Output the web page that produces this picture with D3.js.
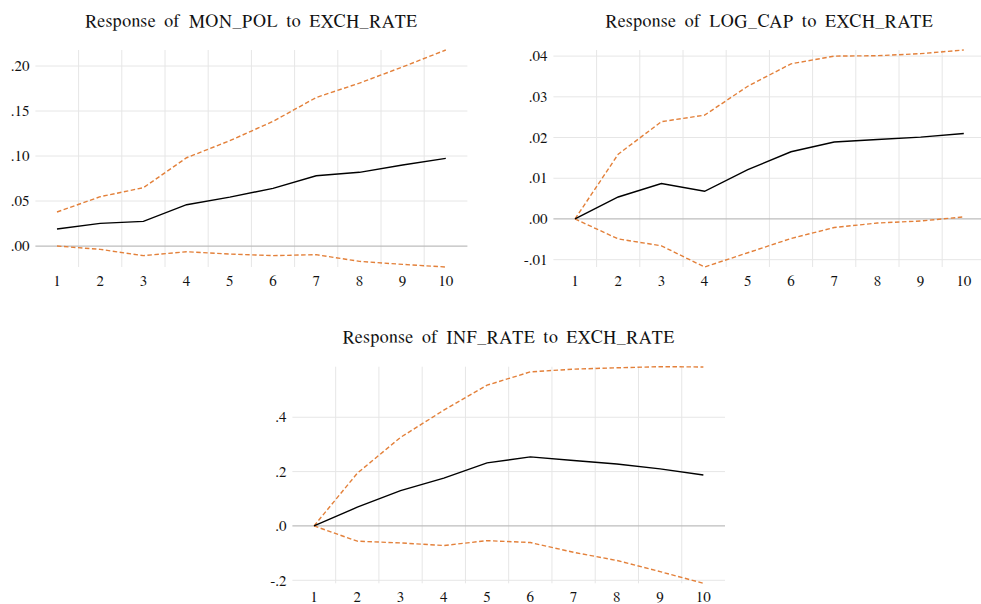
<!DOCTYPE html>
<html>
<head>
<meta charset="utf-8">
<script src="https://cdn.jsdelivr.net/npm/d3@7"></script>
<style>
  html, body { margin: 0; padding: 0; background: #fff; }
  svg { display: block; }
</style>
</head>
<body>
<svg id="chart" width="981" height="604"></svg>
<script>
// ---- Data ----
const periods = [1, 2, 3, 4, 5, 6, 7, 8, 9, 10];

const titles = [
  "Response of MON_POL to EXCH_RATE",
  "Response of LOG_CAP to EXCH_RATE",
  "Response of INF_RATE to EXCH_RATE"
];

const monPolResp  = [0.0189, 0.0252, 0.0274, 0.0459, 0.0544, 0.0641, 0.0781, 0.0819, 0.0900, 0.0974];
const monPolUpper = [0.0378, 0.0548, 0.0648, 0.0981, 0.1170, 0.1385, 0.1650, 0.1810, 0.1990, 0.2178];
const monPolLower = [0.0000, -0.0037, -0.0107, -0.0063, -0.0089, -0.0107, -0.0096, -0.0170, -0.0204, -0.0233];

const logCapResp  = [0.0000, 0.0054, 0.0087, 0.0068, 0.0121, 0.0165, 0.0189, 0.0195, 0.0201, 0.0210];
const logCapUpper = [0.0000, 0.0159, 0.0239, 0.0255, 0.0326, 0.0381, 0.0400, 0.0401, 0.0406, 0.0415];
const logCapLower = [0.0000, -0.0049, -0.0066, -0.0118, -0.0083, -0.0048, -0.0021, -0.0010, -0.0005, 0.0005];

const infRateResp  = [0.000, 0.069, 0.130, 0.176, 0.232, 0.254, 0.241, 0.228, 0.210, 0.1875];
const infRateUpper = [0.000, 0.194, 0.326, 0.426, 0.518, 0.567, 0.577, 0.582, 0.586, 0.585];
const infRateLower = [0.000, -0.056, -0.0625, -0.072, -0.054, -0.061, -0.097, -0.127, -0.168, -0.211];

const monPolTicks  = [0.00, 0.05, 0.10, 0.15, 0.20];
const logCapTicks  = [-0.01, 0.00, 0.01, 0.02, 0.03, 0.04];
const infRateTicks = [-0.2, 0.0, 0.2, 0.4];

// ---- Drawing ----
const FONT = "'FreeSerif', 'Liberation Serif', 'Times New Roman', serif";
const svg = d3.select("#chart");

function fmtTick(v, digits) {
  let s = Math.abs(v).toFixed(digits).replace(/^0/, "");
  return (v < 0 ? "-" : "") + s;
}

function drawPanel(opt) {
  const g = svg.append("g");
  const x = d3.scaleLinear().domain([0.5, 10.5]).range([opt.left, opt.right]);
  const lo = d3.min(opt.lower), hi = d3.max(opt.upper);
  const y = d3.scaleLinear().domain([lo, hi]).range([opt.bottom, opt.top]);

  g.selectAll("line.vg").data(d3.range(1.5, 10, 1)).join("line")
    .attr("x1", d => x(d)).attr("x2", d => x(d))
    .attr("y1", opt.top).attr("y2", opt.bottom)
    .attr("stroke", "#e6e6e6").attr("stroke-width", 1);

  g.selectAll("line.hg").data(opt.ticks.filter(t => t !== 0)).join("line")
    .attr("x1", opt.left).attr("x2", opt.right)
    .attr("y1", d => y(d)).attr("y2", d => y(d))
    .attr("stroke", "#e6e6e6").attr("stroke-width", 1);

  g.append("line")
    .attr("x1", opt.left).attr("x2", opt.right)
    .attr("y1", y(0)).attr("y2", y(0))
    .attr("stroke", "#bdbdbd").attr("stroke-width", 1.2);

  g.selectAll("text.yt").data(opt.ticks).join("text")
    .attr("x", opt.left - 6).attr("y", d => y(d))
    .attr("dy", "0.35em")
    .attr("text-anchor", "end")
    .style("font-family", FONT)
    .style("font-size", "15px")
    .attr("fill", "#111")
    .text(d => fmtTick(d, opt.digits));

  g.selectAll("text.xt").data(periods).join("text")
    .attr("x", d => x(d)).attr("y", opt.bottom + 19)
    .attr("text-anchor", "middle")
    .style("font-family", FONT)
    .style("font-size", "15px")
    .attr("fill", "#111")
    .text(d => d);

  const line = d3.line().x((d, i) => x(periods[i])).y(d => y(d));

  [opt.upper, opt.lower].forEach(arr => {
    g.append("path").datum(arr)
      .attr("d", line)
      .attr("fill", "none")
      .attr("stroke", "#e3803a")
      .attr("stroke-width", 1.4)
      .attr("stroke-dasharray", "4.5,2.5");
  });

  g.append("path").datum(opt.resp)
    .attr("d", line)
    .attr("fill", "none")
    .attr("stroke", "#000")
    .attr("stroke-width", 1.4);

  g.append("text")
    .attr("x", (opt.left + opt.right) / 2 + opt.titleDx)
    .attr("y", opt.titleY)
    .attr("text-anchor", "middle")
    .style("font-family", FONT)
    .style("font-size", "18px")
    .style("letter-spacing", "0.55px")
    .style("word-spacing", "3px")
    .attr("fill", "#111")
    .text(opt.title);
}

drawPanel({
  title: titles[0], resp: monPolResp, upper: monPolUpper, lower: monPolLower,
  ticks: monPolTicks, digits: 2,
  left: 35.4, right: 467.4, top: 50, bottom: 267, titleY: 27, titleDx: 0
});

drawPanel({
  title: titles[1], resp: logCapResp, upper: logCapUpper, lower: logCapLower,
  ticks: logCapTicks, digits: 2,
  left: 553.4, right: 985.4, top: 50, bottom: 267, titleY: 27, titleDx: 0
});

drawPanel({
  title: titles[2], resp: infRateResp, upper: infRateUpper, lower: infRateLower,
  ticks: infRateTicks, digits: 1,
  left: 292.4, right: 725, top: 366.7, bottom: 583.3, titleY: 343, titleDx: 0
});
</script>
</body>
</html>
